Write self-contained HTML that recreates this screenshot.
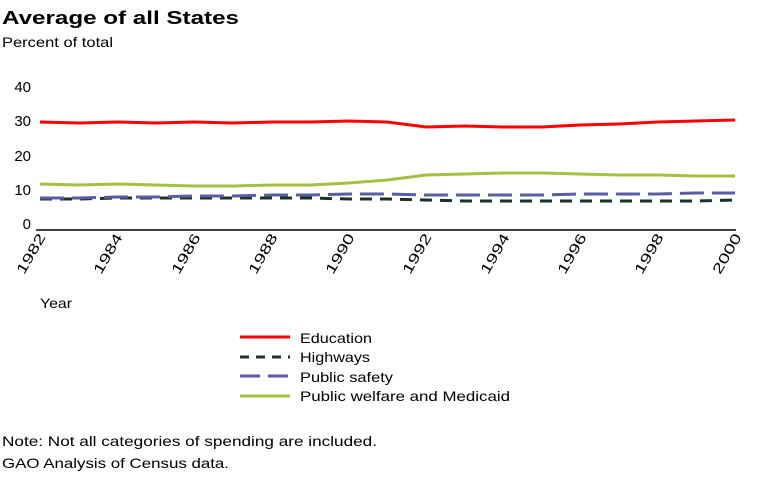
<!DOCTYPE html>
<html><head><style>
body{margin:0;background:#fff;width:760px;height:475px;overflow:hidden}
svg text{font-family:"Liberation Sans",sans-serif;fill:#000}
</style></head><body>
<svg width="760" height="475" xmlns="http://www.w3.org/2000/svg">
<text x="2" y="24" font-size="18" font-weight="bold" textLength="237" lengthAdjust="spacingAndGlyphs">Average of all States</text>
<text x="2" y="47" font-size="14" textLength="111" lengthAdjust="spacingAndGlyphs">Percent of total</text>
<g font-size="15" text-anchor="end">
<text x="31" y="229">0</text><text x="31" y="195">10</text><text x="31" y="161">20</text><text x="31" y="126">30</text><text x="31" y="92">40</text>
</g>
<line x1="36" y1="230" x2="736" y2="230" stroke="#000" stroke-width="1.5"/>
<g font-size="14" text-anchor="end">
<text transform="translate(46,237) rotate(-60)" textLength="44" lengthAdjust="spacingAndGlyphs">1982</text>
<text transform="translate(123,237) rotate(-60)" textLength="44" lengthAdjust="spacingAndGlyphs">1984</text>
<text transform="translate(201,237) rotate(-60)" textLength="44" lengthAdjust="spacingAndGlyphs">1986</text>
<text transform="translate(278,237) rotate(-60)" textLength="44" lengthAdjust="spacingAndGlyphs">1988</text>
<text transform="translate(355,237) rotate(-60)" textLength="44" lengthAdjust="spacingAndGlyphs">1990</text>
<text transform="translate(432,237) rotate(-60)" textLength="44" lengthAdjust="spacingAndGlyphs">1992</text>
<text transform="translate(510,237) rotate(-60)" textLength="44" lengthAdjust="spacingAndGlyphs">1994</text>
<text transform="translate(587,237) rotate(-60)" textLength="44" lengthAdjust="spacingAndGlyphs">1996</text>
<text transform="translate(664,237) rotate(-60)" textLength="44" lengthAdjust="spacingAndGlyphs">1998</text>
<text transform="translate(742,237) rotate(-60)" textLength="44" lengthAdjust="spacingAndGlyphs">2000</text>
</g>
<text x="40" y="308" font-size="14" textLength="32" lengthAdjust="spacingAndGlyphs">Year</text>
<g fill="none" stroke-width="3">
<polyline stroke="#1a3322" stroke-dasharray="12,8" points="40,199 79,199 117,198 156,198 194,198 233,198 272,198 310,198 349,199 387,199 426,200 465,201 503,201 542,201 580,201 619,201 658,201 696,201 735,200"/>
<polyline stroke="#5b5ba8" stroke-dasharray="24,8" points="40,198 79,198 117,197 156,197 194,196 233,196 272,195 310,195 349,194 387,194 426,195 465,195 503,195 542,195 580,194 619,194 658,194 696,193 735,193"/>
<polyline stroke="#a4c040" points="40,184 79,185 117,184 156,185 194,186 233,186 272,185 310,185 349,183 387,180 426,175 465,174 503,173 542,173 580,174 619,175 658,175 696,176 735,176"/>
<polyline stroke="#ff0000" points="40,122 79,123 117,122 156,123 194,122 233,123 272,122 310,122 349,121 387,122 426,127 465,126 503,127 542,127 580,125 619,124 658,122 696,121 735,120"/>
</g>
<g stroke-width="3">
<line x1="240" y1="337" x2="290" y2="337" stroke="#ff0000"/>
<line x1="240" y1="357" x2="290" y2="357" stroke="#1a3322" stroke-dasharray="9,7"/>
<line x1="240" y1="376" x2="290" y2="376" stroke="#5b5ba8" stroke-dasharray="20,8"/>
<line x1="240" y1="396" x2="290" y2="396" stroke="#a4c040"/>
</g>
<g font-size="14">
<text x="300" y="343" textLength="72" lengthAdjust="spacingAndGlyphs">Education</text>
<text x="300" y="362" textLength="70" lengthAdjust="spacingAndGlyphs">Highways</text>
<text x="300" y="382" textLength="93" lengthAdjust="spacingAndGlyphs">Public safety</text>
<text x="300" y="401" textLength="210" lengthAdjust="spacingAndGlyphs">Public welfare and Medicaid</text>
<text x="2" y="446" textLength="375" lengthAdjust="spacingAndGlyphs">Note: Not all categories of spending are included.</text>
<text x="2" y="468" textLength="227" lengthAdjust="spacingAndGlyphs">GAO Analysis of Census data.</text>
</g>
</svg>
</body></html>
